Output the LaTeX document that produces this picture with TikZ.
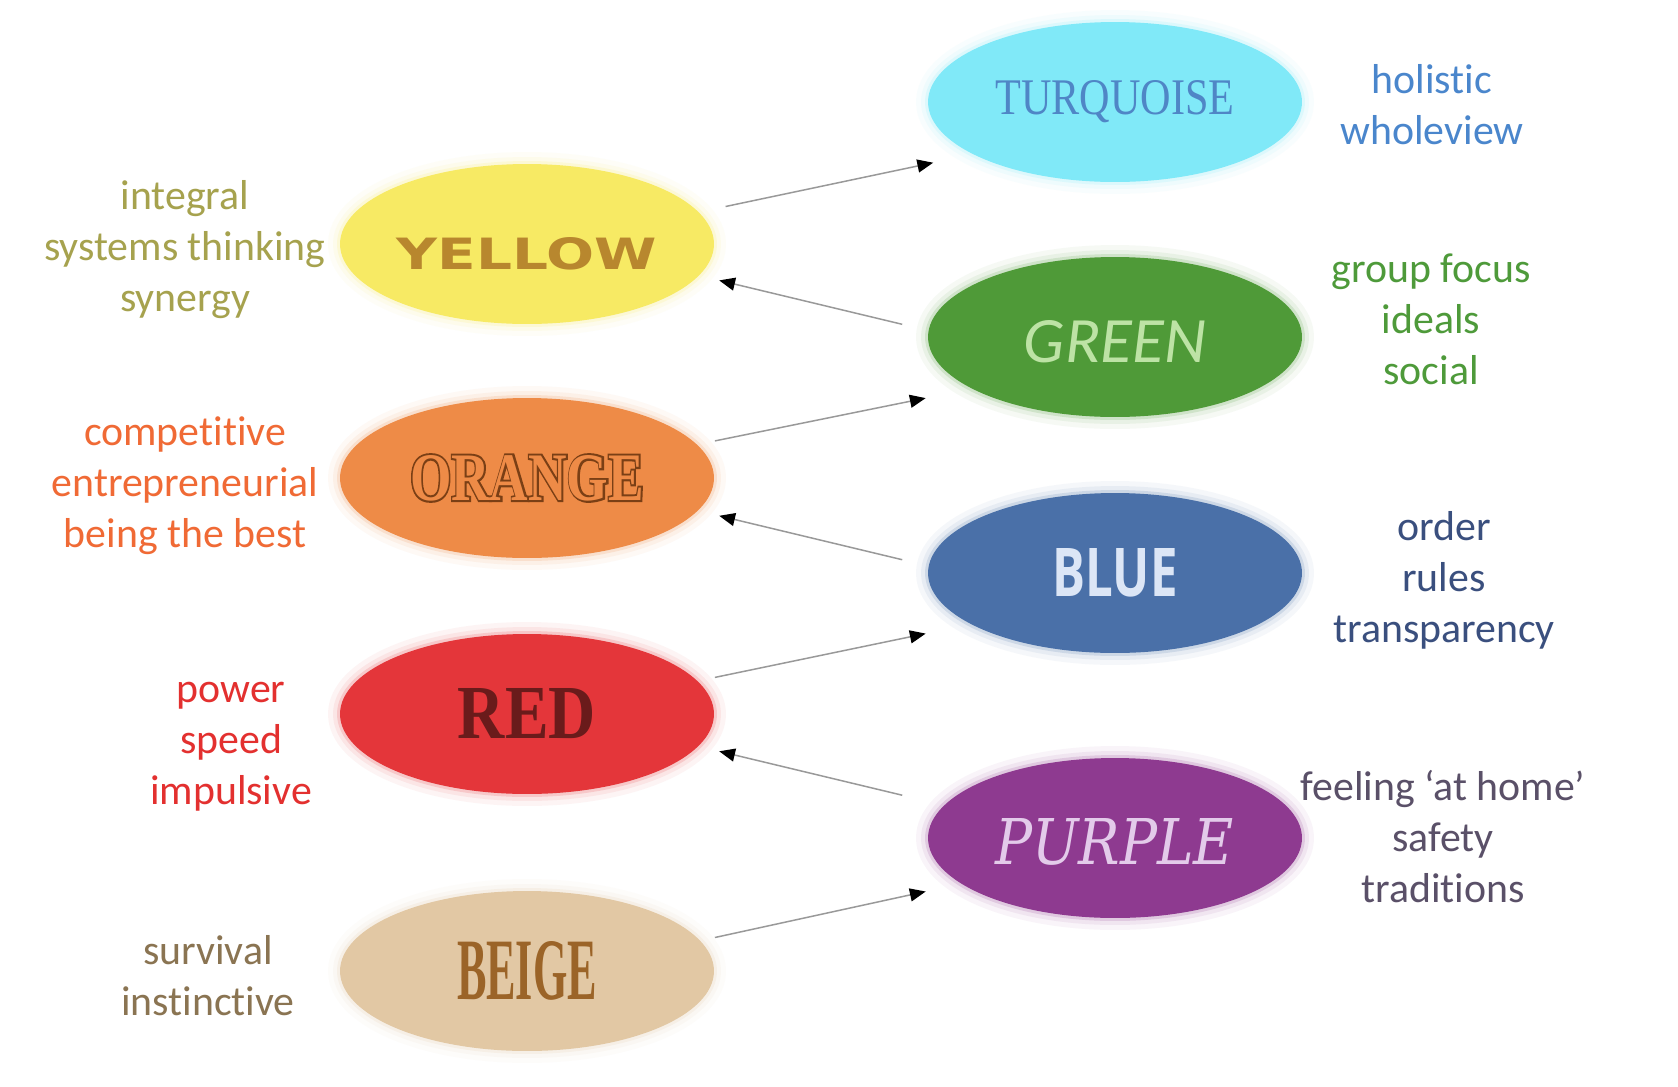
\documentclass[tikz,border=0pt]{standalone}
\usepackage{fontspec}
\usepackage{graphicx}
\setmainfont{Carlito}[Ligatures=NoCommon]
\newfontfamily\yelfont{DejaVu Sans}
\newfontfamily\turfont{Liberation Serif}
\newfontfamily\orafont{Liberation Serif}
\newfontfamily\orafat{Liberation Serif}[FakeBold=6]
\newfontfamily\blufont{Open Sans}
\newfontfamily\redfont{Liberation Serif}
\newfontfamily\purfont{DejaVu Serif}
\newfontfamily\beifont{Liberation Serif}
\usetikzlibrary{shapes.geometric,arrows.meta,calc}
\newlength\px \setlength\px{0.02cm}
\definecolor{cyellow}{HTML}{F7EA64}
\definecolor{tyellow}{HTML}{B8872E}
\definecolor{cturq}{HTML}{80E9F8}
\definecolor{tturq}{HTML}{4F86C6}
\definecolor{cgreen}{HTML}{4F9A38}
\definecolor{tgreen}{HTML}{BDE3A5}
\definecolor{corange}{HTML}{EE8B47}
\definecolor{torange}{HTML}{7A3F15}
\definecolor{cblue}{HTML}{4A70A8}
\definecolor{tblue}{HTML}{DCE6F6}
\definecolor{cred}{HTML}{E4363A}
\definecolor{tred}{HTML}{6A1B1B}
\definecolor{cpurple}{HTML}{8E3A90}
\definecolor{tpurple}{HTML}{E3CBEA}
\definecolor{cbeige}{HTML}{E2C8A4}
\definecolor{tbeige}{HTML}{9B6428}
\definecolor{sy}{HTML}{A6A24E}
\definecolor{so}{HTML}{F06A35}
\definecolor{sr}{HTML}{E3302F}
\definecolor{sb}{HTML}{8A7452}
\definecolor{st}{HTML}{4A86CC}
\definecolor{sg}{HTML}{4E9A3A}
\definecolor{sbl}{HTML}{3A4F7E}
\definecolor{sp}{HTML}{5A5068}
\tikzset{
  blob/.style={ellipse, minimum width=7.48cm, minimum height=3.2cm, inner sep=0pt, fill=#1,
    preaction={draw=#1, line width=0.48cm, opacity=0.05},
    preaction={draw=#1, line width=0.28cm, opacity=0.08},
    preaction={draw=#1, line width=0.12cm, opacity=0.16}},
  desc/.style={align=center, font=\fontsize{23.8}{29}\selectfont, text=#1, inner sep=0pt},
  conn/.style={draw=gray!80, line width=0.85pt, -{Triangle[length=9pt, width=7.4pt, color=black]}},
}
\begin{document}
\begin{tikzpicture}[x=0.02cm, y=-0.02cm]
\fill[white] (0,0) rectangle (1678,1086);
\useasboundingbox (0,0) rectangle (1678,1086);

% ellipses
\node[blob=cyellow] (yellow) at (527,244) {\raisebox{-9\px}[32\px][0pt]{\resizebox{260\px}{32\px}{\yelfont\bfseries\color{tyellow}YELLOW}}};
\node[blob=corange] (orange) at (527,478) {\resizebox{234\px}{45\px}{\bfseries\orafont\rlap{\orafat\color{torange}ORANGE}\color{corange}ORANGE}};
\node[blob=cred] (red) at (527,714) {\resizebox{138\px}{50\px}{\redfont\bfseries\color{tred}RED}};
\node[blob=cbeige] (beige) at (527,971) {\resizebox{140\px}{58\px}{\beifont\bfseries\color{tbeige}BEIGE}};
\node[blob=cturq] (turq) at (1115,102) {\resizebox{239\px}{34\px}{\turfont\color{tturq}TURQUOISE}};
\node[blob=cgreen] (green) at (1115,337) {\raisebox{-4\px}[42\px][0pt]{\resizebox{182\px}{42\px}{\itshape\color{tgreen}GREEN}}};
\node[blob=cblue] (blue) at (1115,573) {\resizebox{125\px}{48\px}{\blufont\bfseries\color{tblue}BLUE}};
\node[blob=cpurple] (purple) at (1115,838) {\raisebox{-3\px}[46\px][0pt]{\resizebox{238\px}{46\px}{\purfont\itshape\color{tpurple}PURPLE}}};

% descriptions
\node[desc=sy] (dyellow) at (185,250) {integral\\systems thinking\\synergy};
\node[desc=so] (dorange) at (185,486) {competitive\\entrepreneurial\\being the best};
\node[desc=sr] (dred) at (231,747) {power\\speed\\impulsive};
\node[desc=sb] (dbeige) at (208,976) {survival\\instinctive};
\node[desc=st] (dturq) at (1432,105) {holistic\\wholeview};
\node[desc=sg] (dgreen) at (1431,319) {group focus\\ideals\\social};
\node[desc=sbl] (dblue) at (1444,580) {order\\rules\\transparency};
\node[desc=sp] (dpurple) at (1443,837) {feeling ‘at home’\\safety\\traditions};

% connectors
\draw[conn] ($(yellow)+(198.6,-37.5)$) -- ($(turq)+(-181.8,60.7)$);
\draw[conn] ($(green)+(-212.8,-12.7)$) -- ($(yellow)+(192.2,36.4)$);
\draw[conn] ($(orange)+(187.9,-37.1)$) -- ($(green)+(-189.3,61.1)$);
\draw[conn] ($(blue)+(-212.8,-13.3)$) -- ($(orange)+(192.2,37.8)$);
\draw[conn] ($(red)+(187.9,-36.6)$) -- ($(blue)+(-189.3,60.6)$);
\draw[conn] ($(purple)+(-212.8,-42.8)$) -- ($(red)+(192.2,37.3)$);
\draw[conn] ($(beige)+(187.9,-33.5)$) -- ($(purple)+(-189.3,53.5)$);
\end{tikzpicture}
\end{document}
